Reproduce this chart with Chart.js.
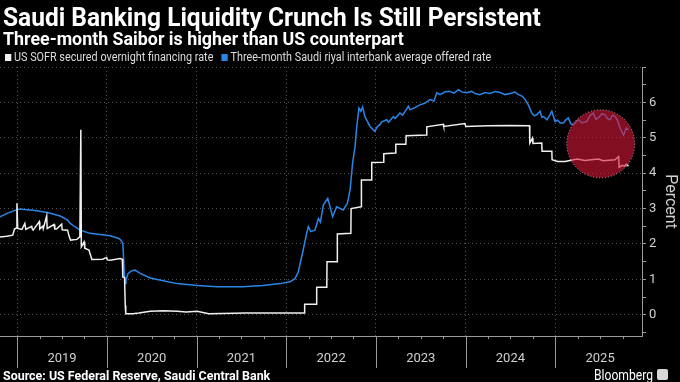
<!DOCTYPE html>
<html>
<head>
<meta charset="utf-8">
<script src="https://cdn.jsdelivr.net/npm/chart.js@4.4.1/dist/chart.umd.min.js"></script>
<style>
  body { margin: 0; background: #000; }
  #wrap { position: relative; width: 680px; height: 382px; background: #000; overflow: hidden; }
  #chartBox { position: absolute; left: 0; top: 0; width: 680px; height: 382px; }
  .txt { position: absolute; white-space: nowrap; color: #fff; transform-origin: left top;
         font-family: "Liberation Sans Narrow", "Roboto", "Liberation Sans", sans-serif; }
  #title { left: 3px; top: 2px; font-size: 26px; font-weight: bold; }
  #subtitle { left: 3px; top: 28px; font-size: 18px; font-weight: bold; }
  #legend { left: 5px; top: 50px; font-size: 12px; color: #ddd; }
  #legend .sw { display: inline-block; width: 7px; height: 7px; margin-right: 3px; vertical-align: 0px; }
  #source { left: 3px; top: 368px; font-size: 13px; font-weight: bold; }
  #brand { left: 594px; top: 366px; font-size: 15px; }
  #logo { position: absolute; left: 657px; top: 369px; width: 11px; height: 11px; background: #d8d8d8; border-radius: 2px; }
</style>
</head>
<body>
<div id="wrap">
  <div id="chartBox"><canvas id="myChart"></canvas></div>
  <div id="title" class="txt">Saudi Banking Liquidity Crunch Is Still Persistent</div>
  <div id="subtitle" class="txt">Three-month Saibor is higher than US counterpart</div>
  <div id="legend" class="txt"><span class="sw" style="background:#f2f2f2"></span>US SOFR secured overnight financing rate&nbsp;&nbsp;&nbsp;<span class="sw" style="background:#2a86e6"></span>Three-month Saudi riyal interbank average offered rate</div>
  <div id="source" class="txt">Source: US Federal Reserve, Saudi Central Bank</div>
  <div id="brand" class="txt">Bloomberg</div>
  <div id="logo"></div>
</div>
<script>
// series data
const sofrDates = [
  "2018-10-23", "2018-11-20", "2018-12-14", "2018-12-21", "2018-12-28", "2018-12-31", "2019-01-03",
  "2019-01-20", "2019-02-01", "2019-02-05", "2019-03-01", "2019-03-04", "2019-03-07", "2019-04-01",
  "2019-04-03", "2019-04-15", "2019-04-17", "2019-05-01", "2019-05-03", "2019-05-31", "2019-06-03",
  "2019-06-10", "2019-07-01", "2019-07-03", "2019-07-25", "2019-08-01", "2019-08-06",
  "2019-09-01", "2019-09-13", "2019-09-17", "2019-09-19", "2019-09-30", "2019-10-03", "2019-10-20",
  "2019-11-01", "2019-12-15", "2019-12-31", "2020-01-03", "2020-01-15", "2020-02-24", "2020-03-04",
  "2020-03-06", "2020-03-13",
  "2020-03-16", "2020-03-18", "2020-04-15", "2020-05-10", "2020-06-26", "2020-08-18", "2020-10-14",
  "2020-11-20", "2021-01-03", "2021-02-20", "2021-06-01", "2021-07-15", "2021-12-31", "2022-03-16",
  "2022-03-17", "2022-05-04", "2022-05-05", "2022-06-15", "2022-06-16", "2022-07-27", "2022-07-28",
  "2022-09-21", "2022-09-22", "2022-11-02", "2022-11-03", "2022-12-14", "2022-12-15", "2023-02-01",
  "2023-02-02", "2023-03-22", "2023-03-23", "2023-05-03", "2023-05-04", "2023-07-26", "2023-07-27",
  "2023-10-02", "2023-10-04", "2023-12-29", "2024-01-02", "2024-04-01", "2024-07-01", "2024-09-18",
  "2024-09-19", "2024-09-30", "2024-10-02", "2024-11-07", "2024-11-08", "2024-12-18", "2024-12-19",
  "2025-01-10", "2025-02-10", "2025-03-15", "2025-04-01", "2025-05-01", "2025-06-25", "2025-07-15",
  "2025-09-01", "2025-09-16", "2025-09-18", "2025-10-01", "2025-10-10", "2025-10-17", "2025-10-26"
];
const sofrRates = [
  2.20, 2.22, 2.25, 2.42, 2.45, 3.15, 2.44,
  2.41, 2.58, 2.41, 2.50, 2.41, 2.39, 2.63,
  2.42, 2.50, 2.43, 2.79, 2.44, 2.55, 2.42,
  2.42, 2.56, 2.40, 2.39, 2.20, 2.11,
  2.13, 2.20, 5.23, 1.92, 2.06, 1.88, 1.83,
  1.56, 1.57, 1.62, 1.55, 1.54, 1.59, 1.57,
  1.07, 1.05,
  0.26, 0.03, 0.03, 0.05, 0.10, 0.11, 0.10,
  0.08, 0.10, 0.03, 0.04, 0.05, 0.05, 0.05,
  0.30, 0.30, 0.78, 0.78, 1.50, 1.50, 2.28,
  2.30, 3.00, 3.05, 3.81, 3.81, 4.30, 4.31,
  4.55, 4.57, 4.82, 4.82, 5.06, 5.08, 5.31,
  5.38, 5.32, 5.40, 5.32, 5.34, 5.35, 5.34,
  4.85, 4.99, 4.84, 4.85, 4.62, 4.62, 4.38,
  4.33, 4.33, 4.38, 4.40, 4.36, 4.40, 4.35,
  4.38, 4.47, 4.17, 4.22, 4.20, 4.25, 4.20
];
const saiborDates = [
  "2018-10-23", "2018-11-25", "2019-01-01", "2019-01-13", "2019-02-10", "2019-03-07", "2019-04-10",
  "2019-05-15", "2019-06-25", "2019-07-24", "2019-08-05", "2019-08-25", "2019-09-14", "2019-10-24",
  "2019-12-04", "2020-01-14", "2020-02-16", "2020-02-24", "2020-03-06", "2020-03-11", "2020-03-15",
  "2020-03-19", "2020-03-28", "2020-04-10", "2020-04-25", "2020-05-16", "2020-06-26", "2020-08-18",
  "2020-10-14", "2021-01-03", "2021-03-25", "2021-07-09", "2021-09-28", "2021-12-07", "2022-01-16",
  "2022-02-06", "2022-02-19", "2022-03-11", "2022-03-25", "2022-04-01", "2022-04-11", "2022-04-28",
  "2022-05-12", "2022-05-20", "2022-06-01", "2022-06-19", "2022-07-09", "2022-07-25", "2022-08-21",
  "2022-09-07", "2022-09-18", "2022-09-28", "2022-10-08", "2022-10-15", "2022-10-24", "2022-11-01",
  "2022-11-08", "2022-11-17", "2022-12-08", "2022-12-28", "2023-01-05", "2023-01-17", "2023-01-25",
  "2023-02-14", "2023-02-22", "2023-03-13", "2023-03-20", "2023-04-09", "2023-04-20", "2023-05-13",
  "2023-05-20", "2023-06-10", "2023-06-29", "2023-07-20", "2023-08-09", "2023-08-25", "2023-09-06",
  "2023-09-19", "2023-10-10", "2023-10-30", "2023-11-15", "2023-12-03", "2023-12-18", "2024-01-05",
  "2024-01-25", "2024-02-10", "2024-02-28", "2024-03-20", "2024-04-10", "2024-05-01", "2024-05-21",
  "2024-06-10", "2024-07-01", "2024-07-20", "2024-08-04", "2024-08-20", "2024-08-31", "2024-09-13",
  "2024-09-27", "2024-10-08", "2024-10-17", "2024-10-31", "2024-11-07", "2024-11-14", "2024-11-28",
  "2024-12-08", "2024-12-18", "2024-12-31", "2025-01-10", "2025-01-21", "2025-02-03", "2025-02-12",
  "2025-02-23", "2025-03-05", "2025-03-15", "2025-04-04", "2025-04-20", "2025-05-09", "2025-05-22",
  "2025-06-05", "2025-06-15", "2025-06-25", "2025-07-10", "2025-07-23", "2025-08-01", "2025-08-12",
  "2025-08-22", "2025-09-02", "2025-09-12", "2025-09-22", "2025-10-06", "2025-10-17", "2025-10-26"
];
const saiborRates = [
  2.77, 2.88, 2.97, 2.99, 2.97, 2.95, 2.92,
  2.87, 2.79, 2.68, 2.58, 2.48, 2.39, 2.30,
  2.27, 2.23, 2.16, 2.13, 2.02, 1.35, 0.88,
  1.00, 1.17, 1.24, 1.26, 1.17, 1.04, 0.96,
  0.88, 0.83, 0.79, 0.79, 0.83, 0.88, 0.93,
  1.02, 1.21, 1.83, 2.30, 2.49, 2.35, 2.39,
  2.72, 2.62, 3.10, 3.29, 2.77, 3.05, 2.96,
  3.15, 3.53, 4.28, 4.75, 5.32, 5.84, 5.75,
  5.87, 5.60, 5.32, 5.18, 5.30, 5.37, 5.45,
  5.51, 5.44, 5.60, 5.55, 5.70, 5.64, 5.89,
  5.79, 5.86, 5.93, 5.98, 6.08, 6.04, 6.27,
  6.22, 6.30, 6.31, 6.26, 6.36, 6.29, 6.27,
  6.31, 6.25, 6.22, 6.28, 6.25, 6.31, 6.28,
  6.22, 6.25, 6.29, 6.22, 6.17, 6.08, 5.93,
  5.70, 5.62, 5.65, 5.75, 5.58, 5.60, 5.51,
  5.62, 5.75, 5.46, 5.50, 5.42, 5.42, 5.50,
  5.56, 5.40, 5.37, 5.51, 5.42, 5.46, 5.62,
  5.70, 5.52, 5.56, 5.68, 5.65, 5.55, 5.51,
  5.64, 5.60, 5.48, 5.27, 5.08, 5.27, 5.23
];

// axis labels
const years = ["2019", "2020", "2021", "2022", "2023", "2024", "2025"];
const yTicks = [0, 1, 2, 3, 4, 5, 6];
const xStart = "2018-10-23";
const xEnd = "2025-12-20";

// highlighted region (the red circle)
const highlightDate = "2025-07-05";
const highlightRate = 4.83;

function toYear(s) {
  const d = new Date(s + "T00:00:00Z");
  const y = d.getUTCFullYear();
  const a = Date.UTC(y, 0, 1), b = Date.UTC(y + 1, 0, 1);
  return y + (d - a) / (b - a);
}
const pts = (ds, vs) => ds.map((d, i) => ({ x: toYear(d), y: vs[i] }));

const gridColor = "rgba(255,255,255,0.32)";
const axisColor = "#9a9a9a";
const tickFont = { family: "'Liberation Sans Narrow', Roboto, sans-serif", size: 13 };

// quarterly ticks + year separators under the x axis
const xAxisMarks = {
  id: "xAxisMarks",
  afterDraw(chart) {
    const { ctx, scales: { x }, chartArea } = chart;
    const y0 = chartArea.bottom;
    ctx.save();
    ctx.strokeStyle = axisColor;
    ctx.lineWidth = 1;
    years.forEach((yr) => {
      const base = Number(yr);
      for (let q = 0; q < 4; q++) {
        const px = Math.round(x.getPixelForValue(base + q / 4)) + 0.5;
        ctx.beginPath();
        ctx.moveTo(px, y0);
        ctx.lineTo(px, y0 + (q === 0 ? 32 : 3));
        ctx.stroke();
      }
    });
    ctx.restore();
  }
};

const highlight = {
  id: "highlight",
  afterDatasetsDraw(chart) {
    const { ctx, scales: { x, y } } = chart;
    const cx = x.getPixelForValue(toYear(highlightDate));
    const cy = y.getPixelForValue(highlightRate);
    ctx.save();
    ctx.beginPath();
    ctx.arc(cx, cy, 34, 0, Math.PI * 2);
    ctx.fillStyle = "rgba(215,25,55,0.6)";
    ctx.fill();
    ctx.setLineDash([1, 2]);
    ctx.strokeStyle = "rgba(255,170,180,0.8)";
    ctx.lineWidth = 1;
    ctx.stroke();
    ctx.restore();
  }
};

const ctx = document.getElementById("myChart");

let chart = new Chart(ctx, {
  type: "line",
  data: {
    datasets: [
      {
        label: "US SOFR secured overnight financing rate",
        data: pts(sofrDates, sofrRates),
        borderColor: "#f0f0f0",
        borderWidth: 1.5,
        pointRadius: 0,
        tension: 0,
      },
      {
        label: "Three-month Saudi riyal interbank average offered rate",
        data: pts(saiborDates, saiborRates),
        borderColor: "#2a86e6",
        borderWidth: 1.5,
        pointRadius: 0,
        tension: 0,
      },
    ],
  },
  options: {
    responsive: true,
    maintainAspectRatio: false,
    animation: false,
    layout: { padding: { top: 67, left: 0, right: 0, bottom: 0 } },
    plugins: { legend: { display: false }, tooltip: { enabled: false } },
    scales: {
      x: {
        type: "linear",
        min: toYear(xStart),
        max: toYear(xEnd),
        afterBuildTicks: (s) => {
          const t = [];
          years.forEach((yr) => { for (let q = 0; q < 4; q++) t.push({ value: Number(yr) + q / 4 }); });
          s.ticks = t;
        },
        afterFit: (s) => { s.height = 46; },
        grid: {
          color: (c) => (c.tick && Number.isInteger(c.tick.value) ? gridColor : "transparent"),
          drawTicks: false,
        },
        border: { color: axisColor, dash: [1, 3] },
        ticks: {
          autoSkip: false,
          maxRotation: 0,
          padding: 15,
          color: "#d0d0d0",
          font: tickFont,
          callback: (v) => {
            const i = years.indexOf(String(Math.floor(v)));
            return v % 1 === 0.5 && i >= 0 ? years[i] : "";
          },
        },
      },
      y: {
        position: "right",
        min: -0.6,
        max: 7,
        afterBuildTicks: (s) => {
          const t = [];
          for (let v = -0.5; v <= 7; v += 0.5) t.push({ value: v });
          s.ticks = t;
        },
        afterFit: (s) => { s.width = 38; },
        grid: {
          color: (c) => (c.tick && Number.isInteger(c.tick.value) && c.tick.value >= 0 ? gridColor : "transparent"),
          tickColor: axisColor,
          tickLength: 4,
        },
        border: { color: axisColor, dash: [1, 3] },
        ticks: {
          autoSkip: false,
          padding: 3,
          color: "#d0d0d0",
          font: tickFont,
          callback: (v) => (yTicks.includes(v) ? String(v) : ""),
        },
        title: {
          display: true,
          text: "Percent",
          color: "#d0d0d0",
          font: { family: "'Liberation Sans Narrow', Roboto, sans-serif", size: 16 },
          padding: { top: 0, bottom: 2 },
        },
      },
    },
  },
  plugins: [xAxisMarks, highlight],
});

// squeeze text to the widths seen in the reference
function fit(id, w) {
  const el = document.getElementById(id);
  el.style.transform = "scaleX(" + (w / el.scrollWidth) + ")";
}
fit("title", 538);
fit("subtitle", 401);
fit("legend", 486);
fit("source", 267);
fit("brand", 59);
</script>
</body>
</html>
